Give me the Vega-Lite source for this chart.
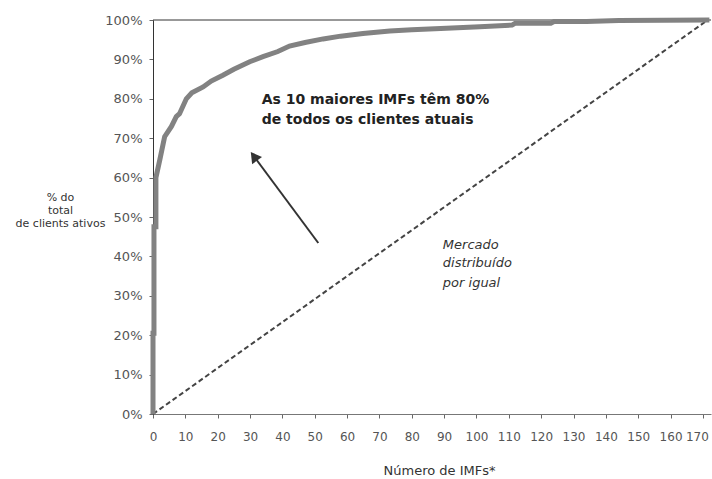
{
  "$schema": "https://vega.github.io/schema/vega-lite/v6.json",
  "width": 558,
  "height": 394,
  "autosize": {"type": "none"},
  "padding": {"left": 153, "top": 20, "right": 1, "bottom": 65},
  "background": "white",
  "config": {
    "view": {"stroke": null},
    "font": "DejaVu Sans",
    "axis": {"grid": false, "labelFont": "DejaVu Sans", "titleFont": "DejaVu Sans"}
  },
  "datasets": {
    "frame": [{"n": 0, "share": 1}, {"n": 172.5, "share": 1}],
    "curve": [
      {"n": 0, "share": 0}, {"n": 0, "share": 0.205}, {"n": 0.3, "share": 0.205},
      {"n": 0.3, "share": 0.475}, {"n": 0.9, "share": 0.475}, {"n": 0.9, "share": 0.6},
      {"n": 2.1, "share": 0.645}, {"n": 3.6, "share": 0.704}, {"n": 5.7, "share": 0.73},
      {"n": 7.2, "share": 0.755}, {"n": 8.2, "share": 0.762}, {"n": 10.3, "share": 0.8},
      {"n": 12, "share": 0.815}, {"n": 15.5, "share": 0.83}, {"n": 18, "share": 0.845},
      {"n": 21.6, "share": 0.86}, {"n": 25, "share": 0.875}, {"n": 29.9, "share": 0.894},
      {"n": 34, "share": 0.907}, {"n": 38.6, "share": 0.92}, {"n": 42.2, "share": 0.934},
      {"n": 47, "share": 0.943}, {"n": 52.6, "share": 0.952}, {"n": 58, "share": 0.959},
      {"n": 64.9, "share": 0.966}, {"n": 73.2, "share": 0.972}, {"n": 80, "share": 0.975},
      {"n": 90.7, "share": 0.979}, {"n": 101, "share": 0.983}, {"n": 111, "share": 0.987},
      {"n": 112, "share": 0.992}, {"n": 123, "share": 0.992}, {"n": 124, "share": 0.996},
      {"n": 134, "share": 0.996}, {"n": 144, "share": 0.999}, {"n": 172, "share": 1.0}
    ],
    "equal": [{"n": 0, "share": 0}, {"n": 171.5, "share": 1}],
    "arrow": [{"n": 51.1, "share": 0.434}, {"n": 31.2, "share": 0.654}],
    "head": [{"n": 31.2, "share": 0.654}],
    "note": [
      {"n": 33.6, "share": 0.797, "label": "As 10 maiores IMFs têm 80%"},
      {"n": 33.6, "share": 0.746, "label": "de todos os clientes atuais"}
    ],
    "market": [
      {"n": 89.6, "share": 0.429, "label": "Mercado"},
      {"n": 89.6, "share": 0.383, "label": "distribuído"},
      {"n": 89.6, "share": 0.332, "label": "por igual"}
    ]
  },
  "encoding": {
    "x": {
      "field": "n", "type": "quantitative",
      "scale": {"domain": [0, 172.5], "nice": false, "zero": false},
      "axis": {
        "values": [0,10,20,30,40,50,60,70,80,90,100,110,120,130,140,150,160,170],
        "title": "Número de IMFs*",
        "titleFontSize": 13, "titleFontWeight": "normal", "titleColor": "#333333",
        "titleX": 286, "titleY": 56, "titleBaseline": "middle", "titleAlign": "center",
        "labelFontSize": 12, "labelColor": "#555555", "labelPadding": 13,
        "labelOffset": {"condition": {"test": "datum.value == 170", "value": -6}, "value": 0},
        "tickSize": 4, "tickColor": "#666666", "domainColor": "#777777",
        "labelFlush": false, "labelOverlap": false
      }
    },
    "y": {
      "field": "share", "type": "quantitative",
      "scale": {"domain": [0, 1], "nice": false},
      "axis": {
        "values": [0,0.1,0.2,0.3,0.4,0.5,0.6,0.7,0.8,0.9,1],
        "format": ".0%",
        "title": ["% do", "total", "de clients ativos"],
        "titleAngle": 0, "titleAlign": "center", "titleBaseline": "top",
        "titleX": -93, "titleY": 171, "titleFontSize": 11, "titleFontWeight": "normal",
        "titleColor": "#333333", "titleLineHeight": 13,
        "labelFontSize": 13, "labelColor": "#555555", "labelPadding": 7,
        "tickSize": 4, "tickColor": "#666666", "domainColor": "#333333",
        "labelFlush": false, "labelOverlap": false
      }
    }
  },
  "layer": [
    {
      "data": {"name": "frame"},
      "mark": {"type": "line", "color": "#333333", "strokeWidth": 1}
    },
    {
      "data": {"name": "equal"},
      "mark": {"type": "line", "color": "#444444", "strokeWidth": 2, "strokeDash": [5, 3]}
    },
    {
      "data": {"name": "curve"},
      "mark": {"type": "line", "color": "#828282", "strokeWidth": 5, "strokeCap": "butt", "strokeJoin": "miter"}
    },
    {
      "data": {"name": "arrow"},
      "mark": {"type": "line", "color": "#333333", "strokeWidth": 2}
    },
    {
      "data": {"name": "head"},
      "mark": {"type": "point", "shape": "triangle-up", "filled": true, "color": "#333333", "size": 150, "angle": 323.6, "opacity": 1}
    },
    {
      "data": {"name": "note"},
      "mark": {"type": "text", "align": "left", "baseline": "middle", "fontSize": 14, "fontWeight": "bold", "color": "#222222", "font": "DejaVu Sans"},
      "encoding": {"text": {"field": "label"}}
    },
    {
      "data": {"name": "market"},
      "mark": {"type": "text", "align": "left", "baseline": "middle", "fontSize": 13, "fontStyle": "italic", "color": "#333333", "font": "DejaVu Sans"},
      "encoding": {"text": {"field": "label"}}
    }
  ]
}
